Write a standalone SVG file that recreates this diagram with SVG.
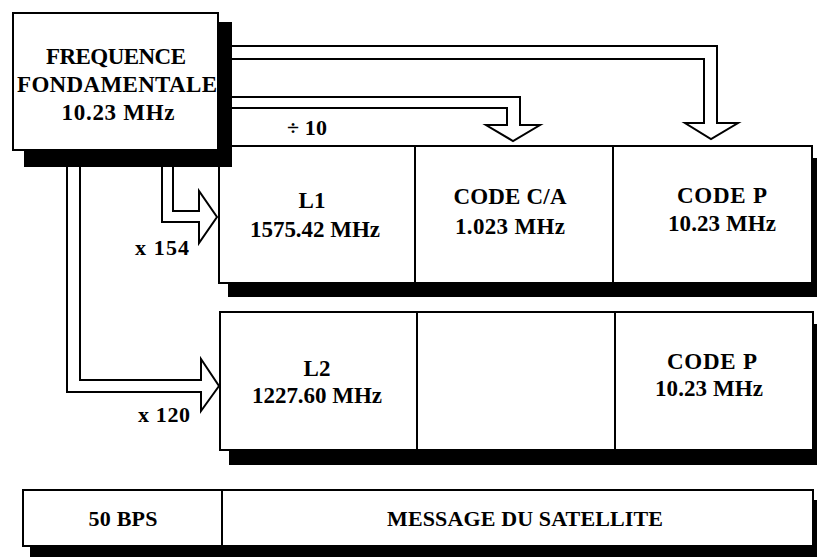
<svg xmlns="http://www.w3.org/2000/svg" width="817" height="557" viewBox="0 0 817 557">
<style>
.box{fill:#fff;stroke:#000;stroke-width:2}
.div{stroke:#000;stroke-width:2}
.shadow{fill:#000}
.pipe{fill:#fff;stroke:#000;stroke-width:2;stroke-linejoin:miter}
text{font-family:"Liberation Serif","Times New Roman",serif;font-weight:bold;fill:#000;text-anchor:middle;font-size:22px}
.t23{font-size:23px}
</style>
<rect width="817" height="557" fill="#fff"/>
<g id="row-l1">
  <rect class="shadow" x="228" y="158" width="592" height="139"/>
  <rect class="box" x="219" y="146" width="593" height="137"/>
  <line class="div" x1="415" y1="146" x2="415" y2="283"/>
  <line class="div" x1="613" y1="146" x2="613" y2="283"/>
</g>
<g id="node-l1">
  <text class="t23" x="312" y="208">L1</text>
  <text class="t23" x="315" y="237" textLength="130">1575.42 MHz</text>
</g>
<g id="node-code-ca">
  <text class="t23" x="510" y="204" textLength="113">CODE C/A</text>
  <text class="t23" x="510" y="234" textLength="110">1.023 MHz</text>
</g>
<g id="node-code-p1">
  <text class="t23" x="722" y="203" textLength="90">CODE P</text>
  <text class="t23" x="722" y="231" textLength="108">10.23 MHz</text>
</g>
<g id="row-l2">
  <rect class="shadow" x="229" y="324" width="592" height="141"/>
  <rect class="box" x="220" y="312" width="593" height="138"/>
  <line class="div" x1="417" y1="312" x2="417" y2="450"/>
  <line class="div" x1="615" y1="312" x2="615" y2="450"/>
</g>
<g id="node-l2">
  <text class="t23" x="317" y="376">L2</text>
  <text class="t23" x="317" y="403" textLength="130">1227.60 MHz</text>
</g>
<g id="node-empty"></g>
<g id="node-code-p2">
  <text class="t23" x="712" y="369" textLength="90">CODE P</text>
  <text class="t23" x="709" y="396" textLength="108">10.23 MHz</text>
</g>
<g id="row-message">
  <rect class="shadow" x="30" y="500" width="790" height="57"/>
  <rect class="box" x="23" y="490" width="790" height="56"/>
  <line class="div" x1="222" y1="490" x2="222" y2="546"/>
</g>
<g id="node-bps">
  <text x="123" y="526" textLength="69">50 BPS</text>
</g>
<g id="node-message">
  <text x="525" y="526" textLength="276">MESSAGE DU SATELLITE</text>
</g>
<g id="node-freq">
  <rect class="shadow" x="24" y="22" width="208" height="145"/>
  <rect class="box" x="13" y="13" width="205" height="137"/>
  <text class="t23" x="116" y="64" textLength="140">FREQUENCE</text>
  <text class="t23" x="117" y="92" textLength="200">FONDAMENTALE</text>
  <text class="t23" x="118" y="120" textLength="113">10.23 MHz</text>
</g>
<g id="connectors">
  <path class="pipe" d="M232,46 H717 V123 H738 L711,139 L685,123 H704 V59 H232"/>
  <path class="pipe" d="M232,97 H520 V125 H540 L513,141 L486,125 H507 V108 H232"/>
  <path class="pipe" d="M162,167 V222 H199 V243 L217,217 L199,191 V211 H173 V167"/>
  <path class="pipe" d="M67,167 V392 H201 V411 L219,386 L201,359 V380 H80 V167"/>
  <text x="307" y="135" textLength="40">÷ 10</text>
  <text x="162" y="255" textLength="54">x 154</text>
  <text x="164" y="422" textLength="52">x 120</text>
</g>
</svg>
